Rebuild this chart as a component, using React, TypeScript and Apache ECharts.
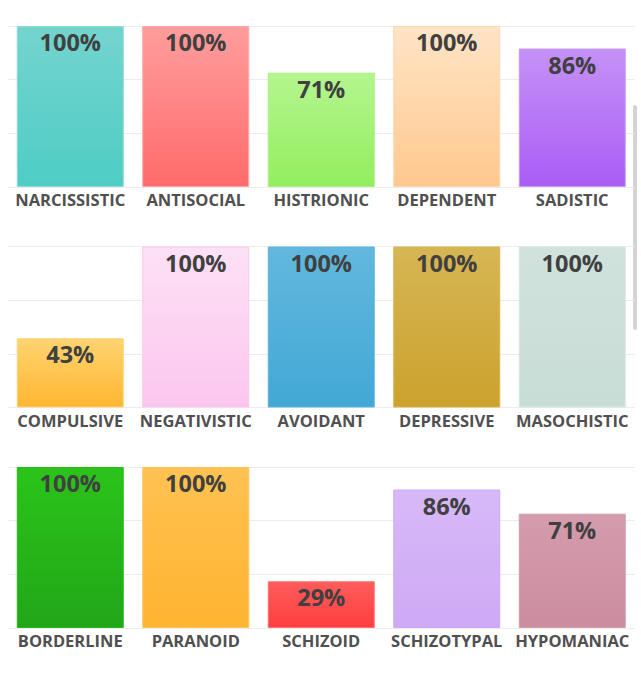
import React, { useEffect, useRef } from "react";
import * as echarts from "echarts";

const row1Categories = ["NARCISSISTIC", "ANTISOCIAL", "HISTRIONIC", "DEPENDENT", "SADISTIC"];
const row1Values = [100, 100, 71, 100, 86];
const row2Categories = ["COMPULSIVE", "NEGATIVISTIC", "AVOIDANT", "DEPRESSIVE", "MASOCHISTIC"];
const row2Values = [43, 100, 100, 100, 100];
const row3Categories = ["BORDERLINE", "PARANOID", "SCHIZOID", "SCHIZOTYPAL", "HYPOMANIAC"];
const row3Values = [100, 100, 29, 86, 71];

// [top, bottom, border]
const row1Colors = [
  ["#74d4ce", "#4ecdc4", "#8fdad4"],
  ["#ff9d9d", "#ff6b6b", "#ffa8a8"],
  ["#b5f590", "#92ee5e", "#a8f07e"],
  ["#ffe4c6", "#ffc88e", "#ffd7ab"],
  ["#c591f6", "#a95df4", "#c49cf5"],
];
const row2Colors = [
  ["#ffd470", "#ffb631", "#ffd27a"],
  ["#fde1f6", "#fcc6ee", "#f9c8ec"],
  ["#62b8de", "#43a8d5", "#5ab4dc"],
  ["#d6b654", "#cca22e", "#d9b44a"],
  ["#d1e2dd", "#c8ddd6", "#d6e6e1"],
];
const row3Colors = [
  ["#2bc419", "#22a61a", "#2cb81f"],
  ["#ffc252", "#ffb331", "#ffc45e"],
  ["#ff5c5c", "#ff3e3e", "#ff7070"],
  ["#d7b9f8", "#cfa9f5", "#cda8f3"],
  ["#d49cad", "#cc8c9f", "#d29fad"],
];

const rows = [
  { categories: row1Categories, values: row1Values, colors: row1Colors },
  { categories: row2Categories, values: row2Values, colors: row2Colors },
  { categories: row3Categories, values: row3Values, colors: row3Colors },
];

const gridTops = [26, 246.5, 467];

export default function App() {
  const ref = useRef<HTMLDivElement>(null);
  useEffect(() => {
    if (!ref.current) return;
    const chart = echarts.init(ref.current, null, { renderer: "svg" });
    const font = "'Open Sans', 'Noto Sans', sans-serif";
    chart.setOption({
      animation: false,
      backgroundColor: "#ffffff",
      grid: gridTops.map((t) => ({ left: 7.5, right: 6, top: t, height: 161 })),
      xAxis: rows.map((r, i) => ({
        type: "category",
        gridIndex: i,
        data: r.categories,
        axisLine: { show: false },
        axisTick: { show: false },
        axisLabel: {
          interval: 0,
          margin: 4,
          fontFamily: font,
          fontWeight: "bold",
          fontSize: 16.5,
          color: "#505050",
        },
      })),
      yAxis: rows.map((r, i) => ({
        type: "value",
        gridIndex: i,
        min: 0,
        max: 100,
        interval: 100 / 3,
        axisLabel: { show: false },
        axisLine: { show: false },
        axisTick: { show: false },
        splitLine: { lineStyle: { color: "#ececec", width: 1 } },
      })),
      series: rows.map((r, i) => ({
        type: "bar",
        xAxisIndex: i,
        yAxisIndex: i,
        barWidth: 107,
        data: r.values.map((v, j) => ({
          value: v,
          itemStyle: {
            color: new echarts.graphic.LinearGradient(0, 0, 0, 1, [
              { offset: 0, color: r.colors[j][0] },
              { offset: 1, color: r.colors[j][1] },
            ]),
            borderColor: r.colors[j][2],
            borderWidth: 1,
          },
        })),
        label: {
          show: true,
          position: "insideTop",
          distance: 4,
          formatter: "{c}%",
          fontFamily: font,
          fontWeight: "bold",
          fontSize: 23.5,
          color: "#404040",
        },
      })),
      graphic: [
        {
          type: "rect",
          shape: { x: 633, y: 105, width: 4, height: 225, r: 2 },
          style: { fill: "#d4d4d4" },
        },
      ],
    });
    return () => chart.dispose();
  }, []);
  return (
    <div
      ref={ref}
      style={{ position: "fixed", left: 0, top: 0, width: 641, height: 680 }}
    />
  );
}
